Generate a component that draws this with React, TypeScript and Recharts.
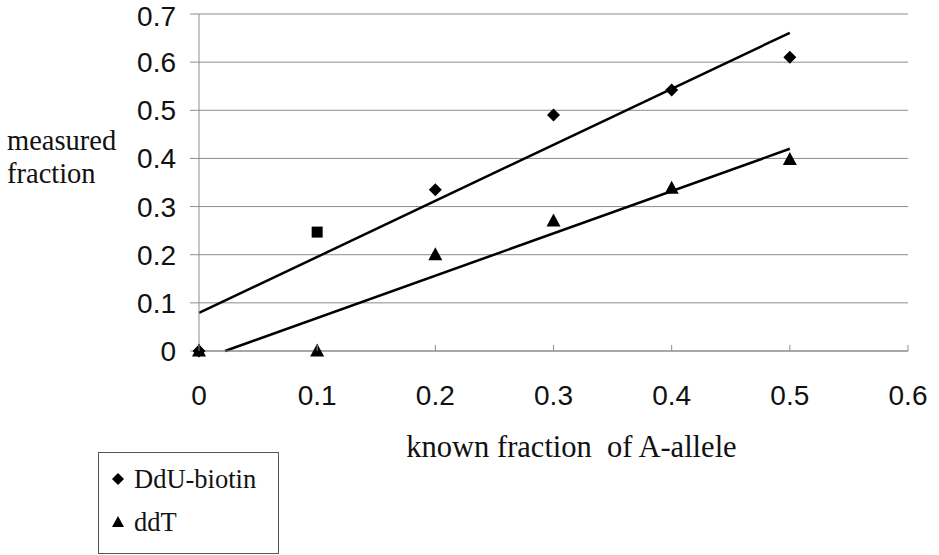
import { ScatterChart, Scatter, XAxis, YAxis, CartesianGrid, ReferenceLine } from "recharts";

// measured vs known fraction of the A-allele
const dduBiotin = [
  { x: 0, y: 0 },
  { x: 0.2, y: 0.335 },
  { x: 0.3, y: 0.49 },
  { x: 0.4, y: 0.542 },
  { x: 0.5, y: 0.61 },
];

// the 0.1 DdU-biotin point, plotted with its own (square) marker
const dduExtra = [{ x: 0.1, y: 0.247 }];

const ddT = [
  { x: 0, y: 0 },
  { x: 0.1, y: 0 },
  { x: 0.2, y: 0.2 },
  { x: 0.3, y: 0.27 },
  { x: 0.4, y: 0.338 },
  { x: 0.5, y: 0.398 },
];

// linear trend lines (start / end points)
const dduTrend = [
  { x: 0, y: 0.079 },
  { x: 0.5, y: 0.661 },
];
const ddTTrend = [
  { x: 0.022, y: 0 },
  { x: 0.5, y: 0.42 },
];

const xTicks = [0, 0.1, 0.2, 0.3, 0.4, 0.5, 0.6];
const yTicks = [0, 0.1, 0.2, 0.3, 0.4, 0.5, 0.6, 0.7];

const SANS = "Liberation Sans, Arial, sans-serif";
const SERIF = "Liberation Serif, DejaVu Serif, Times New Roman, serif";
const GRID = "#8c8c8c";

const Diamond = (props: any) => {
  const { cx, cy } = props;
  const r = 6.5;
  return <polygon points={`${cx},${cy - r} ${cx + r},${cy} ${cx},${cy + r} ${cx - r},${cy}`} fill="#000" />;
};

const Triangle = (props: any) => {
  const { cx, cy } = props;
  return <polygon points={`${cx},${cy - 7.5} ${cx + 7},${cy + 5.5} ${cx - 7},${cy + 5.5}`} fill="#000" />;
};

const Square = (props: any) => {
  const { cx, cy } = props;
  return <rect x={cx - 5.5} y={cy - 5.5} width={11} height={11} fill="#000" />;
};

const XTick = (props: any) => {
  const { x, y, payload } = props;
  return (
    <g>
      <line x1={x} x2={x} y1={y} y2={y - 6} stroke={GRID} />
      <text x={x} y={y + 54} textAnchor="middle" style={{ fontFamily: SANS, fontSize: 28 }} fill="#111">
        {payload.value}
      </text>
    </g>
  );
};

const YTitle = (props: any) => {
  const { viewBox } = props;
  return (
    <text style={{ fontFamily: SERIF, fontSize: 28.5 }} fill="#111">
      <tspan x={viewBox.x + 7} y={150}>measured</tspan>
      <tspan x={viewBox.x + 7} y={183}>fraction</tspan>
    </text>
  );
};

const XTitle = (props: any) => {
  const { viewBox } = props;
  return (
    <text
      x={viewBox.x + viewBox.width / 2 + 18}
      y={457}
      textAnchor="middle"
      fill="#111"
      style={{ fontFamily: SERIF, fontSize: 30.5, whiteSpace: "pre" }}
    >
      known fraction  of A-allele
    </text>
  );
};

export default function App() {
  return (
    <div style={{ position: "absolute", left: 0, top: 0, width: 939, height: 555, background: "#fff" }}>
      <ScatterChart width={939} height={555} margin={{ top: 14, right: 31, bottom: 84, left: 0 }}>
        <CartesianGrid vertical={false} stroke={GRID} />
        <XAxis
          type="number"
          dataKey="x"
          domain={[0, 0.6]}
          ticks={xTicks}
          height={120}
          axisLine={{ stroke: GRID }}
          tickLine={false}
          tickSize={0}
          tickMargin={0}
          tick={<XTick />}
          label={<XTitle />}
        />
        <YAxis
          type="number"
          dataKey="y"
          domain={[0, 0.7]}
          ticks={yTicks}
          width={199}
          axisLine={{ stroke: GRID }}
          tickLine={{ stroke: GRID }}
          tickSize={9}
          tickMargin={14}
          tick={{ fontFamily: SANS, fontSize: 28, fill: "#111" }}
          label={<YTitle />}
        />
        <ReferenceLine
          segment={[dduTrend[0], dduTrend[1]]}
          stroke="#000"
          strokeWidth={2.5}
        />
        <ReferenceLine
          segment={[ddTTrend[0], ddTTrend[1]]}
          stroke="#000"
          strokeWidth={2.5}
        />
        <Scatter name="DdU-biotin" data={dduBiotin} shape={<Diamond />} isAnimationActive={false} />
        <Scatter name="DdU-biotin 0.1" data={dduExtra} shape={<Square />} isAnimationActive={false} />
        <Scatter name="ddT" data={ddT} shape={<Triangle />} isAnimationActive={false} />
      </ScatterChart>

      <div
        style={{
          position: "absolute",
          left: 98,
          top: 452,
          width: 181,
          height: 102,
          border: "1px solid #555",
          boxSizing: "border-box",
          fontFamily: SERIF,
          fontSize: 26.5,
          color: "#111",
        }}
      >
        <div style={{ position: "absolute", left: 12, top: 11, display: "flex", alignItems: "center", lineHeight: "30px" }}>
          <svg width={14} height={14} style={{ marginRight: 9 }}>
            <polygon points="7,1 13,7 7,13 1,7" fill="#000" />
          </svg>
          DdU-biotin
        </div>
        <div style={{ position: "absolute", left: 12, top: 54, display: "flex", alignItems: "center", lineHeight: "30px" }}>
          <svg width={14} height={14} style={{ marginRight: 9 }}>
            <polygon points="7,1 13,12 1,12" fill="#000" />
          </svg>
          ddT
        </div>
      </div>
    </div>
  );
}
